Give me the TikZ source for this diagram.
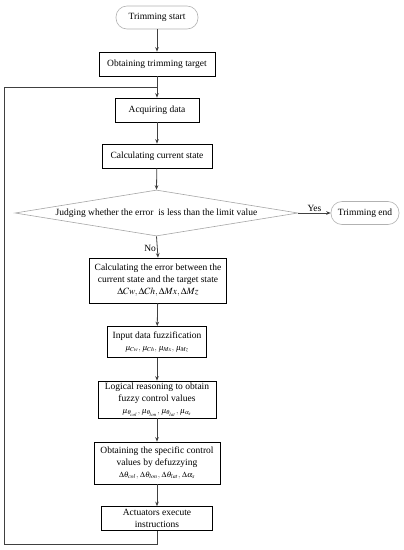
\documentclass[tikz,border=0pt]{standalone}
\usepackage{mathptmx}
\usepackage[no-math]{fontspec}
\setmainfont{Liberation Serif}
\usetikzlibrary{shapes.geometric,arrows.meta}
\tikzset{
  box/.style={draw=black, line width=0.7pt, fill=white, align=center, inner sep=1pt,
    font=\fontsize{9.5}{12}\selectfont},
  term/.style={draw=black!30, line width=0.6pt, rounded corners=11pt, fill=white, align=center,
    inner sep=1pt, font=\fontsize{9.5}{12}\selectfont},
  conn/.style={draw=black!75, line width=0.8pt},
  arr/.style={conn, -{Stealth[length=4.5pt,width=3.6pt]}},
  small/.style={font=\fontsize{9.5}{12}\selectfont},
}
\newcommand{\tinymath}[1]{{\fontsize{8}{9}\selectfont$#1$}}
\begin{document}
\begin{tikzpicture}[x=1pt,y=-1pt]
\useasboundingbox (0,0) rectangle (404,550);
\node[term, minimum width=82pt, minimum height=23pt] (start) at (157,17.5) {Trimming start};
\node[box, minimum width=116pt, minimum height=24pt] (target) at (157,64) {Obtaining trimming target};
\node[box, minimum width=84pt, minimum height=24pt] (acq) at (157,110) {Acquiring data};
\node[box, minimum width=110pt, minimum height=24pt] (cur) at (157,156) {Calculating current state};
\node[diamond, draw=black!35, line width=0.6pt, aspect=6, inner sep=0pt, minimum width=283pt, minimum height=46pt,
  font=\fontsize{9.5}{12}\selectfont] (dia) at (156.5,213) {Judging whether the error~ is less than the limit value};
\node[term, minimum width=68pt, minimum height=23pt] (end) at (365,213) {Trimming end};
\node[box, minimum width=137pt, minimum height=45pt] (err) at (158,280.5)
  {Calculating the error between the\\current state and the target state\\
   {\fontsize{9.5}{11}\selectfont$\Delta Cw,\Delta Ch,\Delta Mx,\Delta Mz$}};
\node[box, minimum width=99pt, minimum height=31pt] (fuz) at (157,342)
  {Input data fuzzification\\ \tinymath{\mu_{Cw},\,\mu_{Ch},\,\mu_{Mx},\,\mu_{Mz}}};
\node[box, minimum width=118pt, minimum height=37pt] (log) at (157,399.5)
  {Logical reasoning to obtain\\fuzzy control values\\
   \tinymath{\mu_{\theta_{col}},\,\mu_{\theta_{lon}},\,\mu_{\theta_{lat}},\,\mu_{\alpha_s}}};
\node[box, minimum width=126pt, minimum height=42pt] (def) at (157,463)
  {Obtaining the specific control\\values by defuzzying\\
   \tinymath{\Delta\theta_{col},\,\Delta\theta_{lon},\,\Delta\theta_{lat},\,\Delta\alpha_{s}}};
\node[box, minimum width=111pt, minimum height=24pt] (act) at (157,518.5)
  {Actuators execute\\instructions};
\coordinate (join) at (157,87);
\coordinate (bl) at (4,544);
\coordinate (tl) at (4,87);
\draw[arr] (start) -- (target);
\draw[arr] (target) -- (acq);
\draw[arr] (acq) -- (cur);
\draw[arr] (cur) -- (dia.north);
\draw[arr] (dia.east) -- (end.west) node[midway, above, small, inner sep=1.5pt] {Yes};
\draw[arr] (dia.south) -- (err.north) node[pos=0.55, left, small, inner sep=1pt] {No};
\draw[arr] (err) -- (fuz);
\draw[arr] (fuz) -- (log);
\draw[arr] (log) -- (def);
\draw[arr] (def) -- (act);
\draw[conn] (act.south) |- (bl) -- (tl) -- (join);
\end{tikzpicture}
\end{document}
